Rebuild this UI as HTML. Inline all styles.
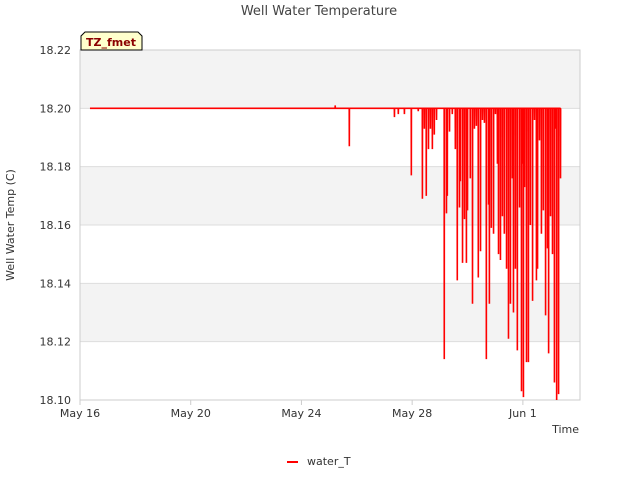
<!DOCTYPE html>
<html><head><meta charset="utf-8"><style>
body{margin:0;background:#fff;font-family:"Liberation Sans","DejaVu Sans",sans-serif}
</style></head><body>
<svg width="640" height="480" viewBox="0 0 640 480" font-family="DejaVu Sans, Liberation Sans, sans-serif">
<text x="319" y="15" text-anchor="middle" font-size="13" fill="#444">Well Water Temperature</text>
<g id="bands"></g>
<g id="grid"></g>
<rect x="80" y="50" width="500" height="350" fill="none" stroke="#ccc"/>
<g id="yt"></g><g id="xt"></g>
<path id="series" fill="none" stroke="#ff0000" stroke-width="1.6" stroke-linejoin="bevel"/>
<text x="14" y="225" transform="rotate(-90 14 225)" text-anchor="middle" font-size="11" fill="#333">Well Water Temp (C)</text>
<text x="579" y="433" text-anchor="end" font-size="11" fill="#333">Time</text>
<g>
<path d="M81,50 L81,36 L85,32 L138,32 L142,36 L142,50 Z" fill="#ffffcc" stroke="#000"/>
<text x="111" y="46" text-anchor="middle" font-size="11" font-weight="bold" fill="#8b0000">TZ_fmet</text>
</g>
<g>
<line x1="287" y1="462" x2="298" y2="462" stroke="#ff0000" stroke-width="2"/>
<text x="307" y="465" font-size="11" fill="#333">water_T</text>
</g>
</svg>
<script>
const yTicks=[18.10,18.12,18.14,18.16,18.18,18.20,18.22];
const xTickDays=[0,4,8,12,16];
const xTickLabels=["May 16","May 20","May 24","May 28","Jun 1"];
const baseValue=18.20;
const startDay=0.36;
const spikeDays=[9.22,9.73,11.36,11.50,11.72,11.97,12.22,12.37,12.44,12.51,12.59,12.66,12.73,12.80,12.88,13.16,13.24,13.27,13.35,13.45,13.56,13.63,13.71,13.74,13.82,13.89,13.96,14.00,14.10,14.18,14.25,14.32,14.39,14.47,14.54,14.61,14.68,14.76,14.79,14.86,14.94,15.01,15.08,15.12,15.19,15.26,15.33,15.41,15.48,15.55,15.62,15.66,15.73,15.80,15.88,15.95,15.99,16.02,16.06,16.13,16.20,16.27,16.35,16.42,16.49,16.53,16.60,16.67,16.74,16.82,16.89,16.93,17.00,17.07,17.14,17.18,17.22,17.29,17.36];
const spikeValues=[18.201,18.187,18.197,18.198,18.198,18.177,18.199,18.169,18.193,18.17,18.186,18.193,18.186,18.191,18.196,18.114,18.164,18.17,18.192,18.198,18.186,18.141,18.166,18.175,18.147,18.162,18.147,18.165,18.176,18.133,18.193,18.194,18.142,18.151,18.196,18.195,18.114,18.167,18.133,18.159,18.157,18.198,18.181,18.15,18.148,18.163,18.157,18.145,18.121,18.133,18.176,18.13,18.145,18.117,18.166,18.103,18.181,18.101,18.173,18.113,18.113,18.16,18.134,18.196,18.141,18.145,18.189,18.157,18.165,18.129,18.152,18.116,18.163,18.15,18.106,18.193,18.1,18.102,18.176];
const X=d=>80+d*27.68, Y=v=>400-(v-18.10)/0.12*350;
const NS="http://www.w3.org/2000/svg";
function mk(t,a,p){const e=document.createElementNS(NS,t);for(const k in a)e.setAttribute(k,a[k]);p.appendChild(e);return e;}
const bands=document.getElementById('bands'),grid=document.getElementById('grid'),yt=document.getElementById('yt'),xt=document.getElementById('xt');
for(let i=0;i<yTicks.length-1;i++){
 const r=mk('rect',{x:80,y:Y(yTicks[i+1]),width:500,height:Y(yTicks[i])-Y(yTicks[i+1]),fill:(i%2==1)?'#f3f3f3':'#ffffff'},bands);
 
 
}
yTicks.forEach(v=>{
 const l=mk('line',{x1:80,x2:580,y1:Y(v),y2:Y(v),stroke:'#ddd'},grid);
 
 
 const t=mk('text',{x:71,y:Y(v)+4,'text-anchor':'end','font-size':11,fill:'#333'},yt);t.textContent=v.toFixed(2);
 
 
});
xTickDays.forEach((d,i)=>{
 const l=mk('line',{x1:X(d),x2:X(d),y1:400,y2:405,stroke:'#ccc'},xt);
 
 
 const t=mk('text',{x:X(d),y:417,'text-anchor':'middle','font-size':11,fill:'#333'},xt);t.textContent=xTickLabels[i];
 
 
});
let d='M'+X(startDay)+','+Y(baseValue);
spikeDays.forEach((s,i)=>{d+=' L'+X(s-0.004)+','+Y(baseValue)+' L'+X(s)+','+Y(spikeValues[i])+' L'+X(s+0.004)+','+Y(baseValue);});
document.getElementById('series').setAttribute('d',d);
</script>
</body></html>
